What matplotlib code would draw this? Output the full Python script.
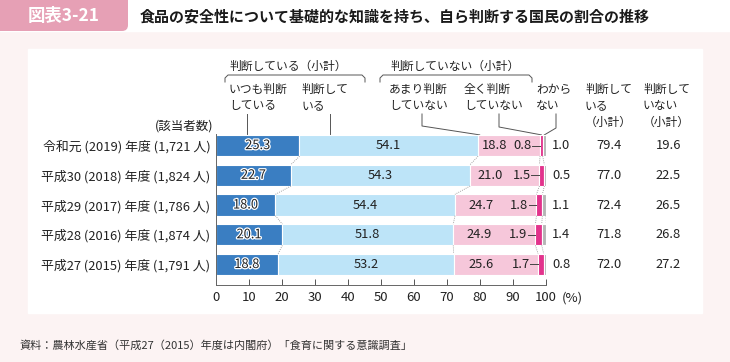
import matplotlib.pyplot as plt
import matplotlib.patheffects as pe
from matplotlib.patches import Rectangle, FancyBboxPatch
import numpy as np

plt.rcParams['font.family'] = ['Noto Sans CJK JP', 'DejaVu Sans']

years = ['令和元 (2019) 年度 (1,721 人)', '平成30 (2018) 年度 (1,824 人)',
         '平成29 (2017) 年度 (1,786 人)', '平成28 (2016) 年度 (1,874 人)',
         '平成27 (2015) 年度 (1,791 人)']
always = [25.3, 22.7, 18.0, 20.1, 18.8]
judge = [54.1, 54.3, 54.4, 51.8, 53.2]
seldom = [18.8, 21.0, 24.7, 24.9, 25.6]
never = [0.8, 1.5, 1.8, 1.9, 1.7]
unknown = [1.0, 0.5, 1.1, 1.4, 0.8]
sub_yes = [79.4, 77.0, 72.4, 71.8, 72.0]
sub_no = [19.6, 22.5, 26.5, 26.8, 27.2]

colors = ['#3a7ec2', '#bde4f8', '#f6c7da', '#e2338c', '#b5b5b5']
txt = '#222222'

fig = plt.figure(figsize=(7.3, 3.62), dpi=100)
fig.patch.set_facecolor('#fcf3f3')

# pixel overlay for frame, title and notes
bg = fig.add_axes([0, 0, 1, 1], zorder=0)
bg.set_xlim(0, 730)
bg.set_ylim(362, 0)
bg.axis('off')
bg.add_patch(Rectangle((0, 0), 730, 31, color='white'))
bg.add_patch(FancyBboxPatch((-10, -10), 138, 41, boxstyle='round,pad=0,rounding_size=6',
                            color='#e6a0b5', lw=0))
bg.add_patch(Rectangle((28, 49), 674, 264, color='white'))
bg.text(64, 16, '図表3-21', color='white', fontsize=12.5, fontweight='bold', ha='center', va='center')
bg.text(140, 16, '食品の安全性について基礎的な知識を持ち、自ら判断する国民の割合の推移',
        fontsize=10.8, fontweight='bold', va='center', color='#1a1a1a')
bg.text(20, 345, '資料：農林水産省（平成27（2015）年度は内閣府）「食育に関する意識調査」',
        fontsize=8, va='center', color='#333333')

# main bar axes
ax = fig.add_axes([216 / 730, 1 - 285 / 362, 330 / 730, 151 / 362], zorder=1)
ax.patch.set_alpha(0)
y = np.arange(len(years))
parts = [always, judge, seldom, never, unknown]
left = np.zeros(len(years))
edges = [left.copy()]
for vals, c in zip(parts, colors):
    ax.barh(y, vals, left=left, height=0.72, color=c, edgecolor='white', linewidth=0.8)
    left = left + np.array(vals)
    edges.append(left.copy())

ax.set_xlim(0, 100)
ax.set_ylim(4.69, -0.39)
ax.set_yticks(y)
ax.set_yticklabels(years, fontsize=9.3, color=txt)
ax.tick_params(axis='y', length=0, pad=4)
ax.set_xticks(np.arange(0, 101, 10))
ax.tick_params(axis='x', direction='in', length=4, width=0.7, labelsize=9.5, pad=4, colors='#555555',
               labelcolor=txt)
for s in ['top', 'right']:
    ax.spines[s].set_visible(False)
for s in ['left', 'bottom']:
    ax.spines[s].set_color('#666666')
    ax.spines[s].set_linewidth(0.7)

# dotted connectors between bars
for e in edges[1:]:
    for i in range(len(years) - 1):
        ax.plot([e[i], e[i + 1]], [i + 0.36, i + 1 - 0.36], ls=(0, (1, 1.5)), color='#888888', lw=0.6)

# value labels
halo = [pe.withStroke(linewidth=1.8, foreground='white')]
for i in range(len(years)):
    ax.text(always[i] / 2, i, f'{always[i]:.1f}', ha='center', va='center', fontsize=9.3, color=txt,
            path_effects=halo)
    ax.text(edges[1][i] + judge[i] / 2, i, f'{judge[i]:.1f}', ha='center', va='center', fontsize=9.3,
            color=txt)
    ax.text(edges[2][i] + seldom[i] / 2 - 4.5, i, f'{seldom[i]:.1f}', ha='center', va='center',
            fontsize=9.3, color=txt)
    ax.text(edges[3][i] - 2.6, i, f'{never[i]:.1f}', ha='right', va='center', fontsize=9.3, color=txt)
    ax.plot([edges[3][i] - 2.4, edges[3][i]], [i, i], color='#444444', lw=0.7)
    ax.text(101.8, i, f'{unknown[i]:.1f}', ha='left', va='center', fontsize=9.3, color=txt)
    ax.text(119.2, i, f'{sub_yes[i]:.1f}', ha='center', va='center', fontsize=9.3, color=txt)
    ax.text(137.0, i, f'{sub_no[i]:.1f}', ha='center', va='center', fontsize=9.3, color=txt)
for t in ax.texts:
    t.set_clip_on(False)


def to_px(xv, yv):
    d = ax.transData.transform((xv, yv))
    return bg.transData.inverted().transform(d)


bg.text(562, 298, '(%)', fontsize=9.5, ha='left', va='center', color=txt, zorder=3)

# header texts and brackets
hs = 8.5
bg.text(288, 66, '判断している（小計）', fontsize=hs, ha='center', va='center', color=txt)
bg.text(455, 66, '判断していない（小計）', fontsize=hs, ha='center', va='center', color=txt)
for x0, x1 in [(225, 365), (380, 532)]:
    bg.plot([x0, x0, x0 + 3, x1 - 3, x1, x1], [82, 78, 75, 75, 78, 82], color='#555555', lw=0.7)

heads = [(229, ['いつも判断', 'している']), (302, ['判断して', 'いる']),
         (389, ['あまり判断', 'していない']), (464, ['全く判断', 'していない']),
         (536, ['わから', 'ない']), (585, ['判断して', 'いる', '（小計）']),
         (643, ['判断して', 'いない', '（小計）'])]
for x0, lines in heads:
    for k, s in enumerate(lines):
        bg.text(x0, 89 + 16.5 * k, s, fontsize=hs, ha='left', va='center', color=txt)
bg.text(213, 126, '(該当者数)', fontsize=9, ha='right', va='center', color=txt)

top = -0.36
lc = '#555555'
for xv, xp in [(9.5, 247), (34.5, 330)]:
    p = to_px(xv, top)
    bg.plot([xp, xp], [114, p[1]], color=lc, lw=0.7)
for xp, ye, xv in [(422, 126, edges[2][0] + 0.5), (499, 127, edges[3][0] + 0.4),
                   (556, 128, edges[4][0] + 0.5)]:
    p = to_px(xv, top)
    bg.plot([xp, xp, p[0]], [114, ye, p[1]], color=lc, lw=0.7)

fig.savefig('out.png', dpi=100, facecolor=fig.get_facecolor())
